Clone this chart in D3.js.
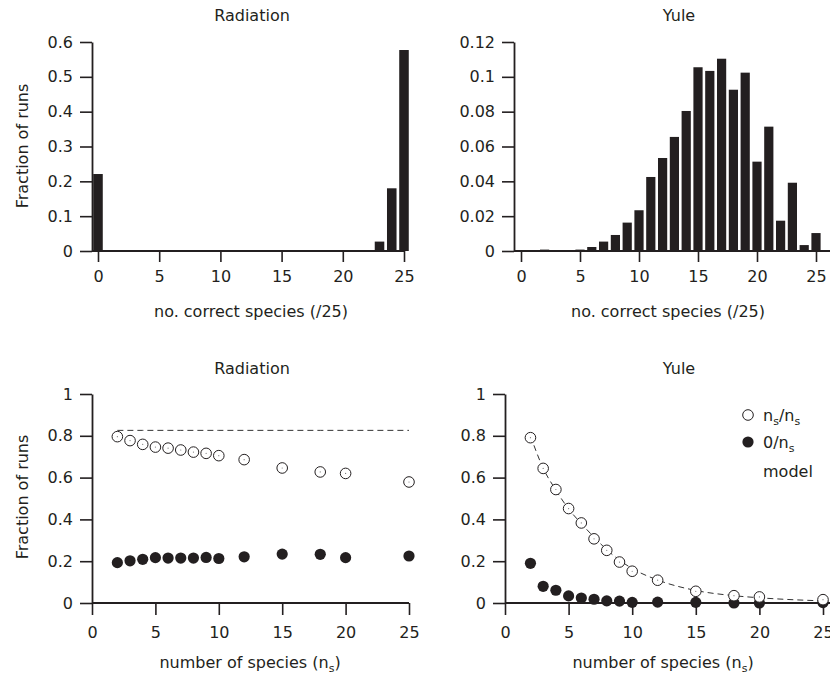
<!DOCTYPE html>
<html><head><meta charset="utf-8">
<script src="https://cdn.jsdelivr.net/npm/d3@7"></script>
<style>
body{margin:0;background:#fff}
svg text{font-family:"DejaVu Sans",sans-serif;font-size:16px;fill:#231f20}
</style></head><body>
<script>
// гистограммы: число правильно найденных видов (из 25)
var correctSpecies = [0,1,2,3,4,5,6,7,8,9,10,11,12,13,14,15,16,17,18,19,20,21,22,23,24,25];
var radHist  = [0.221,0,0,0,0,0,0,0,0,0,0,0,0,0,0,0,0,0,0,0,0,0,0,0.027,0.18,0.577];
var yuleHist = [0,0,0.0008,0,0,0.0008,0.0023,0.0054,0.0092,0.0163,0.0234,0.0425,0.0534,0.0655,0.0804,
                0.1055,0.1034,0.1104,0.0926,0.1024,0.0513,0.0714,0.0174,0.0392,0.0034,0.0103];

// нижние графики: доля прогонов в зависимости от n_s
var nSpecies  = [2,3,4,5,6,7,8,9,10,12,15,18,20,25];
var radAll    = [0.796,0.777,0.759,0.746,0.741,0.732,0.722,0.716,0.705,0.686,0.646,0.627,0.620,0.579];
var radNone   = [0.193,0.202,0.209,0.217,0.215,0.215,0.215,0.218,0.213,0.221,0.234,0.233,0.217,0.225];
var radModel  = [0.826,0.826,0.826,0.826,0.826,0.826,0.826,0.826,0.826,0.826,0.826,0.826,0.826,0.826];
var yuleAll   = [0.791,0.644,0.543,0.452,0.383,0.307,0.252,0.196,0.152,0.109,0.056,0.035,0.029,0.016];
var yuleNone  = [0.190,0.080,0.061,0.034,0.024,0.018,0.010,0.009,0.003,0.004,0.003,0,0,0.002];
var yuleModel = [0.80,0.645,0.54,0.45,0.38,0.315,0.255,0.205,0.165,0.11,0.06,0.035,0.025,0.01];

// подписи делений
var xTicks     = [0,5,10,15,20,25];
var radTicks   = [0,0.1,0.2,0.3,0.4,0.5,0.6];
var yuleTicks  = [0,0.02,0.04,0.06,0.08,0.1,0.12];
var fracTicks  = [0,0.2,0.4,0.6,0.8,1];

var ink = "#231f20";
var svg = d3.select("body").append("svg").attr("width",830).attr("height",678);

var fmt = function (d) { return d === 0 ? "0" : String(+d.toFixed(2)); };

function panel (o) {
    var g = svg.append("g");
    var x = d3.scaleLinear().domain([0,25]).range(o.xr);
    var y = d3.scaleLinear().domain(o.yd).range(o.yr);

    var ya = g.append("g").attr("transform","translate(" + o.ax + ",0)")
        .call(d3.axisLeft(y).tickValues(o.yt).tickFormat(fmt).tickSize(12).tickSizeOuter(0).tickPadding(7));
    var xa = g.append("g").attr("transform","translate(0," + o.yr[0] + ")")
        .call(d3.axisBottom(x).tickValues(xTicks).tickSize(o.tk).tickSizeOuter(0).tickPadding(o.tp));
    xa.select(".domain").remove();
    g.append("line").attr("x1",o.ax).attr("x2",o.xend).attr("y1",o.yr[0]).attr("y2",o.yr[0])
        .attr("stroke",ink).attr("stroke-width",2);
    g.selectAll(".domain").attr("stroke",ink).attr("stroke-width",1.8);
    g.selectAll(".tick line").attr("stroke",ink).attr("stroke-width",1.6);
    g.selectAll(".tick text").style("font-size","16px").attr("fill",ink);
    g.selectAll(".tick text").attr("font-family",null);

    g.append("text").attr("x",o.tx).attr("y",o.ty).attr("text-anchor","middle").text(o.title);
    var xl = g.append("text").attr("x",o.lx).attr("y",o.ly).attr("text-anchor","middle");
    if (o.sub) {
        xl.append("tspan").text("number of species (n");
        xl.append("tspan").attr("dy",4).style("font-size","11px").text("s");
        xl.append("tspan").attr("dy",-4).text(")");
    } else {
        xl.text("no. correct species (/25)");
    }
    if (o.ylab) {
        g.append("text").attr("transform","translate(28," + o.ylab + ") rotate(-90)")
            .attr("text-anchor","middle").text("Fraction of runs");
    }
    return {g: g, x: x, y: y};
}

function bars (p, vals) {
    var w = (p.x(1) - p.x(0)) * 0.78;
    p.g.selectAll("rect.bar").data(vals).enter().append("rect").attr("class","bar")
        .attr("x", function (d,i) { return p.x(correctSpecies[i]) - w/2; })
        .attr("width", w)
        .attr("y", function (d) { return p.y(d); })
        .attr("height", function (d) { return p.y(0) - p.y(d); })
        .attr("fill", ink);
}

function points (p, all, none, model) {
    var line = d3.line().x(function (d,i) { return p.x(nSpecies[i]); })
        .y(function (d) { return p.y(d); }).curve(d3.curveMonotoneX);
    p.g.append("path").datum(model).attr("d",line).attr("fill","none")
        .attr("stroke","#333").attr("stroke-width",1).attr("stroke-dasharray","6,4");
    p.g.selectAll("circle.none").data(none).enter().append("circle").attr("class","none")
        .attr("cx", function (d,i) { return p.x(nSpecies[i]); })
        .attr("cy", function (d) { return p.y(d); })
        .attr("r",5.6).attr("fill",ink);
    p.g.selectAll("circle.all").data(all).enter().append("circle").attr("class","all")
        .attr("cx", function (d,i) { return p.x(nSpecies[i]); })
        .attr("cy", function (d) { return p.y(d); })
        .attr("r",5.3).attr("fill","#fff").attr("stroke",ink).attr("stroke-width",1);
    p.g.selectAll("circle.dot").data(all).enter().append("circle").attr("class","dot")
        .attr("cx", function (d,i) { return p.x(nSpecies[i]); })
        .attr("cy", function (d) { return p.y(d); })
        .attr("r",0.6).attr("fill","#777");
}

var p1 = panel({xr:[98,404], yr:[251,42], yd:[0,0.6], yt:radTicks, ax:92, xend:405, tk:11, tp:9,
    title:"Radiation", tx:252, ty:21, lx:251, ly:317, ylab:146});
bars(p1, radHist);

var p2 = panel({xr:[521,816], yr:[251,42], yd:[0,0.12], yt:yuleTicks, ax:514, xend:830, tk:11, tp:9,
    title:"Yule", tx:679, ty:21, lx:668, ly:317});
bars(p2, yuleHist);

var p3 = panel({xr:[92,409], yr:[603,394], yd:[0,1], yt:fracTicks, ax:92, xend:409, tk:12, tp:12,
    title:"Radiation", tx:252, ty:374, lx:250, ly:668, ylab:497, sub:true});
points(p3, radAll, radNone, radModel);

var p4 = panel({xr:[505,823], yr:[603,394], yd:[0,1], yt:fracTicks, ax:505, xend:830, tk:12, tp:12,
    title:"Yule", tx:679, ty:374, lx:663, ly:668, sub:true});
points(p4, yuleAll, yuleNone, yuleModel);

// легенда
var lg = svg.append("g");
lg.append("circle").attr("cx",748).attr("cy",415).attr("r",5.3).attr("fill","#fff").attr("stroke",ink);
lg.append("circle").attr("cx",748).attr("cy",442).attr("r",5.6).attr("fill",ink);
var t1 = lg.append("text").attr("x",763).attr("y",421);
t1.append("tspan").text("n");
t1.append("tspan").attr("dy",4).style("font-size","11px").text("s");
t1.append("tspan").attr("dy",-4).text("/n");
t1.append("tspan").attr("dy",4).style("font-size","11px").text("s");
var t2 = lg.append("text").attr("x",763).attr("y",448);
t2.append("tspan").text("0/n");
t2.append("tspan").attr("dy",4).style("font-size","11px").text("s");
lg.append("text").attr("x",763).attr("y",477).text("model");
</script>
</body></html>
